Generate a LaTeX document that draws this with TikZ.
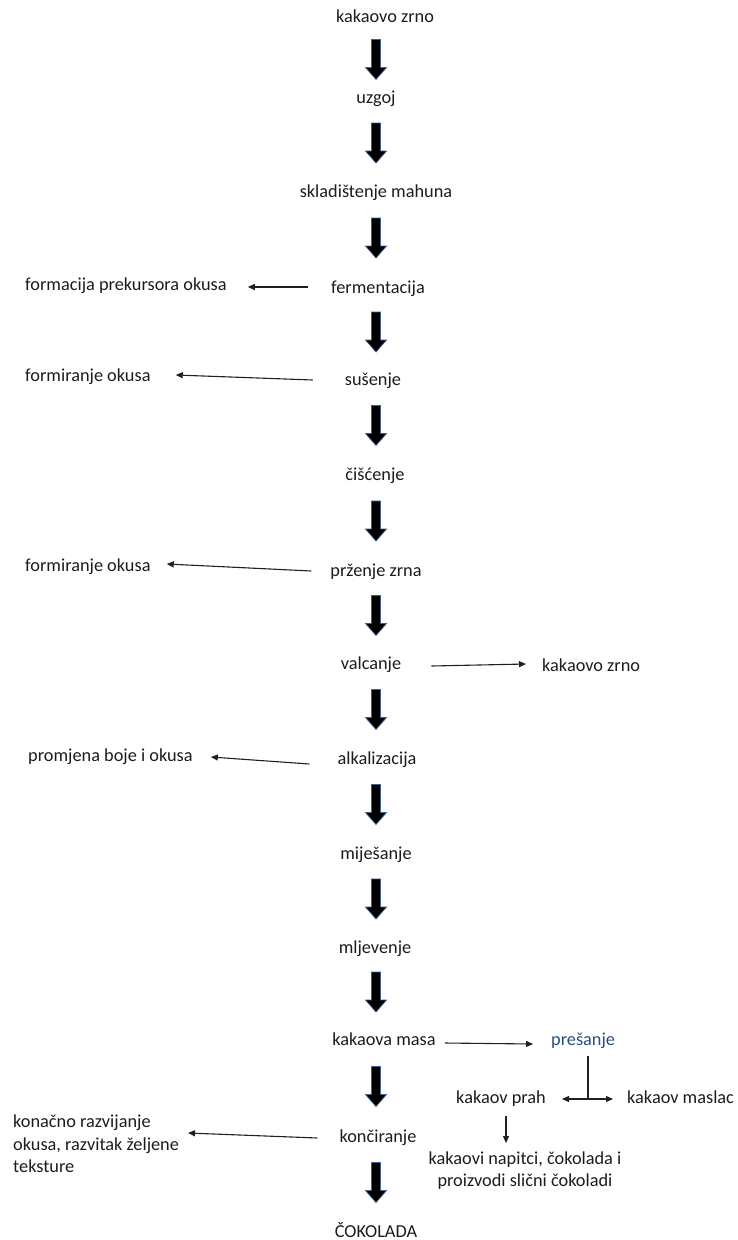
\documentclass[tikz,border=0pt]{standalone}
\usepackage{fontspec}
\setmainfont{Carlito}
\usetikzlibrary{arrows.meta,calc}
\definecolor{txt}{HTML}{1C1C1C}
\definecolor{bluetxt}{HTML}{2A4E7F}
\definecolor{arredge}{HTML}{3E5F8F}
\definecolor{thin}{HTML}{202020}
\tikzset{
  lbl/.style={font=\fontsize{18.3}{22}\selectfont, text=txt, inner sep=0pt, text height=13.5pt, text depth=4pt},
  side/.style={lbl, anchor=west},
  bigarrow/.style={draw=arredge, fill=black, line width=0.7pt,
    to path={let \p1=(\tikztostart), \p2=(\tikztotarget), \p3=($(\p1)!0.5!(\p2)$) in
      (\x1-4.5pt,\y3+23pt) -- (\x1+4.5pt,\y3+23pt) -- (\x1+4.5pt,\y3-5pt) -- (\x1+10.5pt,\y3-5pt)
      -- (\x1,\y3-17pt) -- (\x1-10.5pt,\y3-5pt) -- (\x1-4.5pt,\y3-5pt) -- cycle}},
  thinarrow/.style={draw=thin, line width=1.1pt, -{Triangle[length=7pt,width=6pt]}},
}
\begin{document}
\begin{tikzpicture}[x=1pt,y=-1pt]
\useasboundingbox (0,0) rectangle (737,1240);
\coordinate (axis) at (376,0);
% main column
\node[lbl] (kz)   at (385,18)   {kakaovo zrno};
\node[lbl] (uz)   at (376,99)   {uzgoj};
\node[lbl] (skl)  at (376,193)  {skladištenje mahuna};
\node[lbl] (ferm) at (378,289)  {fermentacija};
\node[lbl] (sus)  at (373,381)  {sušenje};
\node[lbl] (cis)  at (375,476)  {čišćenje};
\node[lbl] (przen) at (376,572) {prženje zrna};
\node[lbl] (valc) at (371,665)  {valcanje};
\node[lbl] (alk)  at (377,760)  {alkalizacija};
\node[lbl] (mije) at (376,855)  {miješanje};
\node[lbl] (mlj)  at (375,949)  {mljevenje};
\node[lbl] (km)   at (384,1041) {kakaova masa};
\node[lbl] (konc) at (378,1138) {končiranje};
\node[lbl] (cok)  at (376,1233) {ČOKOLADA};
% big arrows
\path[bigarrow] ([yshift=-4]kz.center -| axis) to ([yshift=-4]uz.center -| axis);
\path[bigarrow] (uz.center -| axis) to (skl.center -| axis);
\path[bigarrow] (skl.center -| axis) to (ferm.center -| axis);
\path[bigarrow] (ferm.center -| axis) to (sus.center -| axis);
\path[bigarrow] (sus.center -| axis) to (cis.center -| axis);
\path[bigarrow] (cis.center -| axis) to (przen.center -| axis);
\path[bigarrow] (przen.center -| axis) to (valc.center -| axis);
\path[bigarrow] (valc.center -| axis) to (alk.center -| axis);
\path[bigarrow] (alk.center -| axis) to (mije.center -| axis);
\path[bigarrow] (mije.center -| axis) to (mlj.center -| axis);
\path[bigarrow] (mlj.center -| axis) to (km.center -| axis);
\path[bigarrow] (km.center -| axis) to (konc.center -| axis);
\path[bigarrow] (konc.center -| axis) to (cok.center -| axis);
% side labels
\node[side] (fp)  at (25,286) {formacija prekursora okusa};
\node[side] (fo1) at (25,377) {formiranje okusa};
\node[side] (fo2) at (25,567) {formiranje okusa};
\node[side] (kz2) at (542,667) {kakaovo zrno};
\node[side] (pbo) at (28,757) {promjena boje i okusa};
\node[side, text=bluetxt] (pres) at (551,1041) {prešanje};
\node[lbl] (prah) at (501,1099) {kakaov prah};
\node[side] (masl) at (627,1099) {kakaov maslac};
\node[lbl, anchor=north, align=center, text height=, text depth=] (nap) at (525,1152)
  {kakaovi napitci, čokolada i\\proizvodi slični čokoladi};
\node[lbl, anchor=north west, align=left, font=\fontsize{18.3}{22.5}\selectfont, text height=, text depth=] (kra) at (13,1115)
  {konačno razvijanje\\okusa, razvitak željene\\teksture};
% thin arrows
\draw[thinarrow] ([shift={(-23,-2)}]ferm.west) -- ([shift={(21,1)}]fp.east);
\draw[thinarrow] ([shift={(-32,-1)}]sus.west) -- ([shift={(25,-2)}]fo1.east);
\draw[thinarrow] ([shift={(-19,-1)}]przen.west) -- ([shift={(16,-3)}]fo2.east);
\draw[thinarrow] ([shift={(30,1)}]valc.east) -- ([shift={(-16,-3)}]kz2.west);
\draw[thinarrow] ([shift={(-28,4)}]alk.west) -- ([shift={(18,0)}]pbo.east);
\draw[thinarrow] ([shift={(9,2)}]km.east) -- ([shift={(-18,3)}]pres.west);
\draw[thinarrow] ([shift={(-22,0)}]konc.west) -- ([shift={(175,18)}]kra.north west);
\coordinate (j) at (588,1099);
\draw[draw=thin, line width=1.1pt] (j |- pres.south) ++(0,6) -- (j);
\draw[draw=thin, line width=1.1pt, {Triangle[length=7pt,width=6pt]}-{Triangle[length=7pt,width=6pt]}] ([xshift=-26]j) -- ([xshift=25]j);
\draw[thinarrow] ([shift={(5,8)}]prah.south) -- ([shift={(-19,-9)}]nap.north);
\end{tikzpicture}
\end{document}
